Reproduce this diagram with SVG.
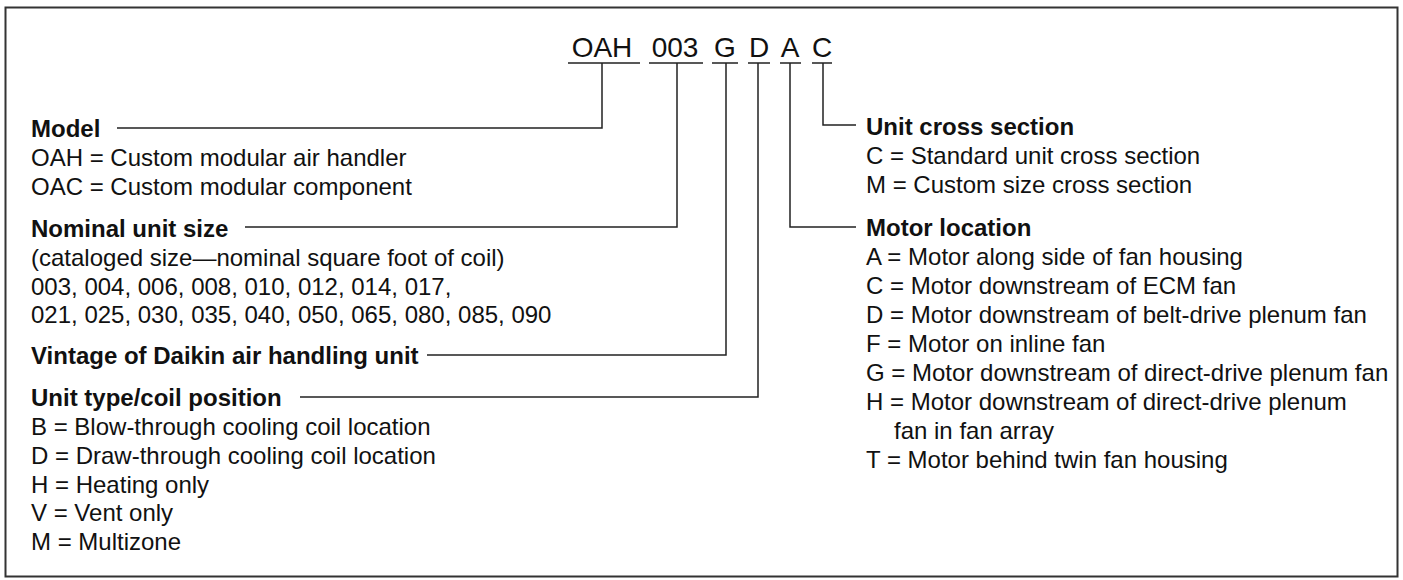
<svg xmlns="http://www.w3.org/2000/svg" width="1403" height="580" viewBox="0 0 1403 580">
<style>
text{font-family:"Liberation Sans",Arial,sans-serif;fill:#111;}
.t{font-size:24px;}
.h{font-size:24px;font-weight:bold;}
.title{font-size:28px;text-anchor:middle;}
.ln{stroke:#222;stroke-width:1.5;fill:none;}
</style>
<rect x="5.5" y="7.5" width="1392" height="569" fill="#fff" stroke="#333" stroke-width="2"/>
<g id="title">
<text class="title" x="602" y="57">OAH</text>
<text class="title" x="675" y="57">003</text>
<text class="title" x="725" y="57">G</text>
<text class="title" x="759" y="57">D</text>
<text class="title" x="790" y="57">A</text>
<text class="title" x="822" y="57">C</text>
</g>
<g id="connectors">
<path class="ln" d="M568 63H640M649 63H703M712 63H738M748 63H770M780 63H801M812 63H832"/>
<path class="ln" d="M602 63V128H117"/>
<path class="ln" d="M677 63V227H245"/>
<path class="ln" d="M726 63V355H427"/>
<path class="ln" d="M758 63V397H300"/>
<path class="ln" d="M790 63V227H856"/>
<path class="ln" d="M823 63V125H856"/>
</g>
<g id="model">
<text class="h" x="31" y="137">Model</text>
<text class="t" x="31" y="166">OAH = Custom modular air handler</text>
<text class="t" x="31" y="195">OAC = Custom modular component</text>
</g>
<g id="size">
<text class="h" x="31" y="237">Nominal unit size</text>
<text class="t" x="31" y="266">(cataloged size—nominal square foot of coil)</text>
<text class="t" x="31" y="295">003, 004, 006, 008, 010, 012, 014, 017,</text>
<text class="t" x="31" y="323">021, 025, 030, 035, 040, 050, 065, 080, 085, 090</text>
</g>
<g id="vintage">
<text class="h" x="31" y="364">Vintage of Daikin air handling unit</text>
</g>
<g id="unittype">
<text class="h" x="31" y="406">Unit type/coil position</text>
<text class="t" x="31" y="435">B = Blow-through cooling coil location</text>
<text class="t" x="31" y="464">D = Draw-through cooling coil location</text>
<text class="t" x="31" y="493">H = Heating only</text>
<text class="t" x="31" y="521">V = Vent only</text>
<text class="t" x="31" y="550">M = Multizone</text>
</g>
<g id="crosssection">
<text class="h" x="866" y="135">Unit cross section</text>
<text class="t" x="866" y="164">C = Standard unit cross section</text>
<text class="t" x="866" y="193">M = Custom size cross section</text>
</g>
<g id="motor">
<text class="h" x="866" y="236">Motor location</text>
<text class="t" x="866" y="265">A = Motor along side of fan housing</text>
<text class="t" x="866" y="294">C = Motor downstream of ECM fan</text>
<text class="t" x="866" y="323">D = Motor downstream of belt-drive plenum fan</text>
<text class="t" x="866" y="352">F = Motor on inline fan</text>
<text class="t" x="866" y="381">G = Motor downstream of direct-drive plenum fan</text>
<text class="t" x="866" y="410">H = Motor downstream of direct-drive plenum</text>
<text class="t" x="894" y="439">fan in fan array</text>
<text class="t" x="866" y="468">T = Motor behind twin fan housing</text>
</g>
</svg>
